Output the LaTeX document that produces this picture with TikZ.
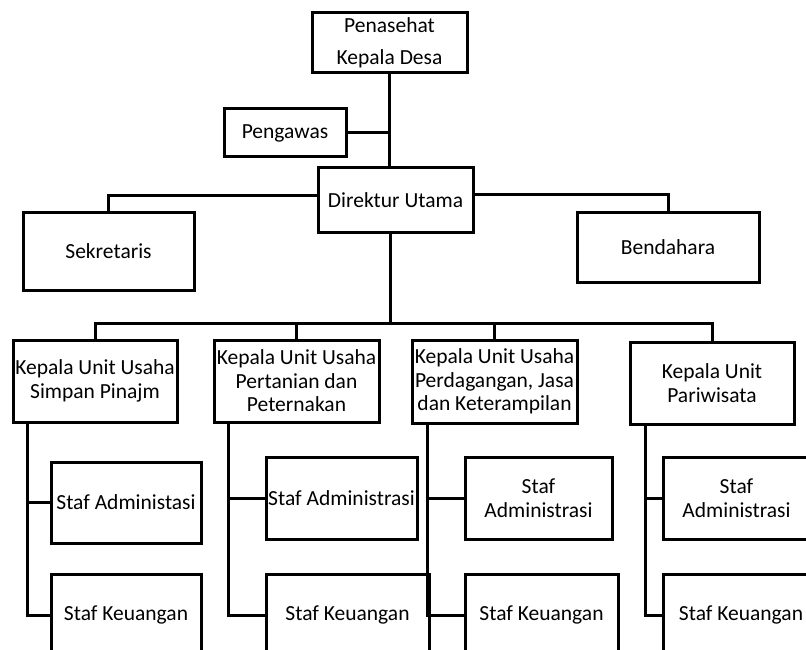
\documentclass[tikz,border=0pt]{standalone}
\usepackage{fontspec}
\setmainfont{Carlito}
\usepackage{tikz}
\usetikzlibrary{arrows,shapes}
\tikzstyle{edge} = [draw,line width=3pt,-]
\tikzset{
  orgbox/.style = {draw=black, rectangle, line width=3pt, align=center, inner sep=0pt,
    font=\fontsize{21.5}{23.5}\selectfont},
  unitbox/.style = {orgbox, minimum width=165pt, minimum height=82pt},% kepala unit
  stafbox/.style = {orgbox, minimum width=150pt, minimum height=82pt},% staf
}

\begin{document}
\begin{tikzpicture}[x=1pt,y=-1pt]
                    \path [use as bounding box] (0,0) rectangle (806,650);
                    \clip (0,0) rectangle (806,650);

                    \node[orgbox, minimum width=155pt, minimum height=60pt, font=\fontsize{21.5}{32}\selectfont] (pk) at (389.5,43) {Penasehat\\Kepala Desa};
                    \node[orgbox, minimum width=122pt, minimum height=48pt] (pg) at (285,133) {Pengawas};
                    \node[orgbox, minimum width=155pt, minimum height=64pt] (du) at (395.5,200) {Direktur Utama};
                    \node[orgbox, minimum width=171pt, minimum height=78pt] (sk) at (108.5,251) {Sekretaris};
                    \node[orgbox, minimum width=182pt, minimum height=70pt] (bd) at (668,247) {Bendahara};

                    \node[unitbox, minimum width=164pt] (u1) at (95,381) {Kepala Unit Usaha\\Simpan Pinajm};
                    \node[unitbox] (u2) at (296.5,381) {Kepala Unit Usaha\\Pertanian dan\\Peternakan};
                    \node[unitbox, minimum height=83pt] (u3) at (494.5,381.5) {Kepala Unit Usaha\\Perdagangan, Jasa\\dan Keterampilan};
                    \node[unitbox, minimum width=164pt] (u4) at (712,383) {Kepala Unit\\Pariwisata};

                    \node[stafbox, minimum height=81pt] (a1) at (126,502.5) {Staf Administasi};
                    \node[stafbox] (k1) at (126,615) {Staf Keuangan};
                    \node[stafbox, minimum width=151pt] (a2) at (341.5,498) {Staf Administrasi};
                    \node[stafbox, minimum width=163pt] (k2) at (347.5,615) {Staf Keuangan};
                    \node[stafbox, minimum width=147pt] (a3) at (538.5,498) {Staf\\Administrasi};
                    \node[stafbox, minimum width=153pt] (k3) at (541.5,615) {Staf Keuangan};
                    \node[stafbox, minimum width=147pt] (a4) at (736.5,498) {Staf\\Administrasi};
                    \node[stafbox, minimum width=156pt] (k4) at (741,615) {Staf Keuangan};

                    \coordinate (bus) at (390,323);

                    \path[edge] (pk.south) -- (pk.south |- du.north);
                    \path[edge] (pg.east) -- (pg.east -| pk.south);
                    \path[edge] ([yshift=5pt]du.west) -| (sk.north);
                    \path[edge] ([yshift=6pt]du.east) -| (bd.north);
                    \path[edge] (du.south -| bus) -- (bus);
                    \path[edge] (u1.north) |- (bus) -| (u4.north);
                    \path[edge] (u2.north) -- (u2.north |- bus);
                    \path[edge] (u3.north) -- (u3.north |- bus);

                    \path[edge] ([xshift=16pt]u1.south west) |- (a1.west);
                    \path[edge] ([xshift=16pt]u1.south west) |- (k1.west);
                    \path[edge] ([xshift=16pt]u2.south west) |- (a2.west);
                    \path[edge] ([xshift=16pt]u2.south west) |- (k2.west);
                    \path[edge] ([xshift=17pt]u3.south west) |- (a3.west);
                    \path[edge] ([xshift=17pt]u3.south west) |- (k3.west);
                    \path[edge] ([xshift=17pt]u4.south west) |- (a4.west);
                    \path[edge] ([xshift=17pt]u4.south west) |- (k4.west);
                \end{tikzpicture}
\end{document}
